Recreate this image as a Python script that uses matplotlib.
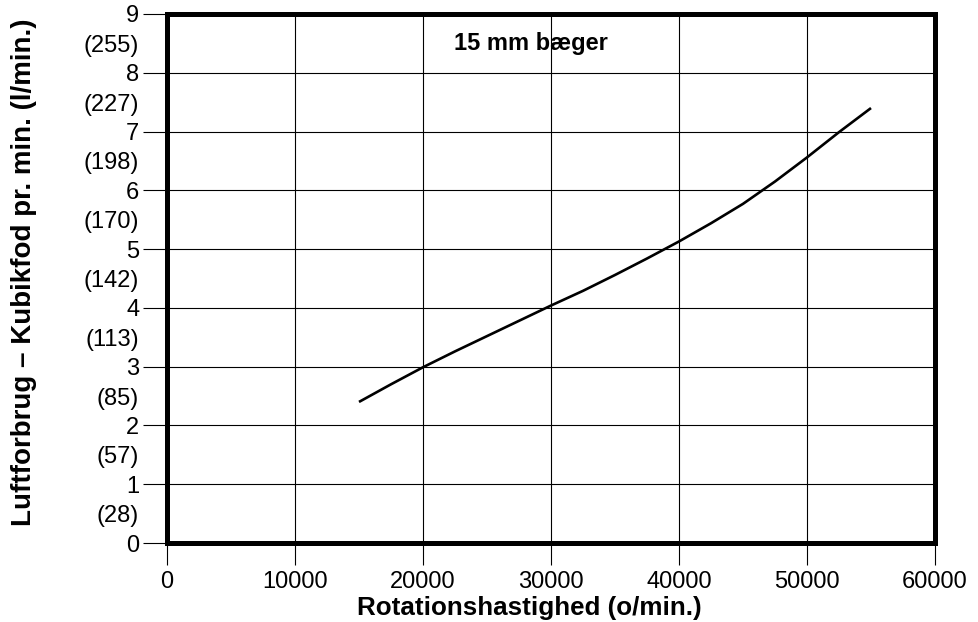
import matplotlib
matplotlib.use("Agg")
import matplotlib.pyplot as plt
from matplotlib.ticker import FixedLocator, FixedFormatter

plt.rcParams['font.family'] = ['Liberation Sans', 'DejaVu Sans']

# Rotational speed (rpm) and air consumption (cubic feet per minute)
speed_rpm = [15000, 17500, 20000, 22500, 25000, 27500, 30000, 32500, 35000,
             37500, 40000, 42500, 45000, 47500, 50000, 52500, 55000]
air_cfm = [2.40, 2.70, 2.99, 3.26, 3.52, 3.78, 4.04, 4.29, 4.56,
           4.84, 5.13, 5.44, 5.77, 6.15, 6.56, 6.99, 7.40]

x_ticks = [0, 10000, 20000, 30000, 40000, 50000, 60000]
y_ticks = [0, 1, 2, 3, 4, 5, 6, 7, 8, 9]
# litres per minute, shown between the cubic-feet ticks
lpm_positions = [0.5, 1.5, 2.5, 3.5, 4.5, 5.5, 6.5, 7.5, 8.5]
lpm_labels = ["(28)", "(57)", "(85)", "(113)", "(142)", "(170)",
              "(198)", "(227)", "(255)"]

title_text = "15 mm bæger"
x_label = "Rotationshastighed (o/min.)"
y_label = "Luftforbrug – Kubikfod pr. min. (l/min.)"

fig = plt.figure(figsize=(9.79, 6.22), dpi=100)
ax = fig.add_axes([167 / 979, 79 / 622, 768 / 979, 529 / 622])

ax.plot(speed_rpm, air_cfm, color='black', linewidth=1.9,
        solid_capstyle='butt', solid_joinstyle='round', zorder=3)

ax.set_xlim(0, 60000)
ax.set_ylim(0, 9)

ax.xaxis.set_major_locator(FixedLocator(x_ticks))
ax.xaxis.set_major_formatter(FixedFormatter([str(v) for v in x_ticks]))
ax.yaxis.set_major_locator(FixedLocator(y_ticks))
ax.yaxis.set_major_formatter(FixedFormatter([str(v) for v in y_ticks]))
ax.yaxis.set_minor_locator(FixedLocator(lpm_positions))
ax.yaxis.set_minor_formatter(FixedFormatter(lpm_labels))

ax.grid(True, which='major', color='black', linewidth=0.8)
ax.set_axisbelow(True)

ax.tick_params(axis='y', which='major', length=17, width=0.8,
               labelsize=17, pad=3, direction='out', color='black')
ax.tick_params(axis='y', which='minor', length=0, labelsize=17, pad=20)
ax.tick_params(axis='x', which='major', length=16, width=0.8,
               labelsize=17, pad=4.5, direction='out', color='black')

for spine in ax.spines.values():
    spine.set_linewidth(3.6)
    spine.set_color('black')
    spine.set_zorder(4)

ax.text(28450, 8.5, title_text, fontsize=17, fontweight='bold',
        ha='center', va='center')

ax.set_xlabel(x_label, fontsize=18.7, fontweight='bold')
ax.xaxis.set_label_coords(0.472, -0.100)
ax.set_ylabel(y_label, fontsize=20, fontweight='bold')
ax.yaxis.set_label_coords(-0.169, 0.512)

fig.savefig("out.png", dpi=100)
